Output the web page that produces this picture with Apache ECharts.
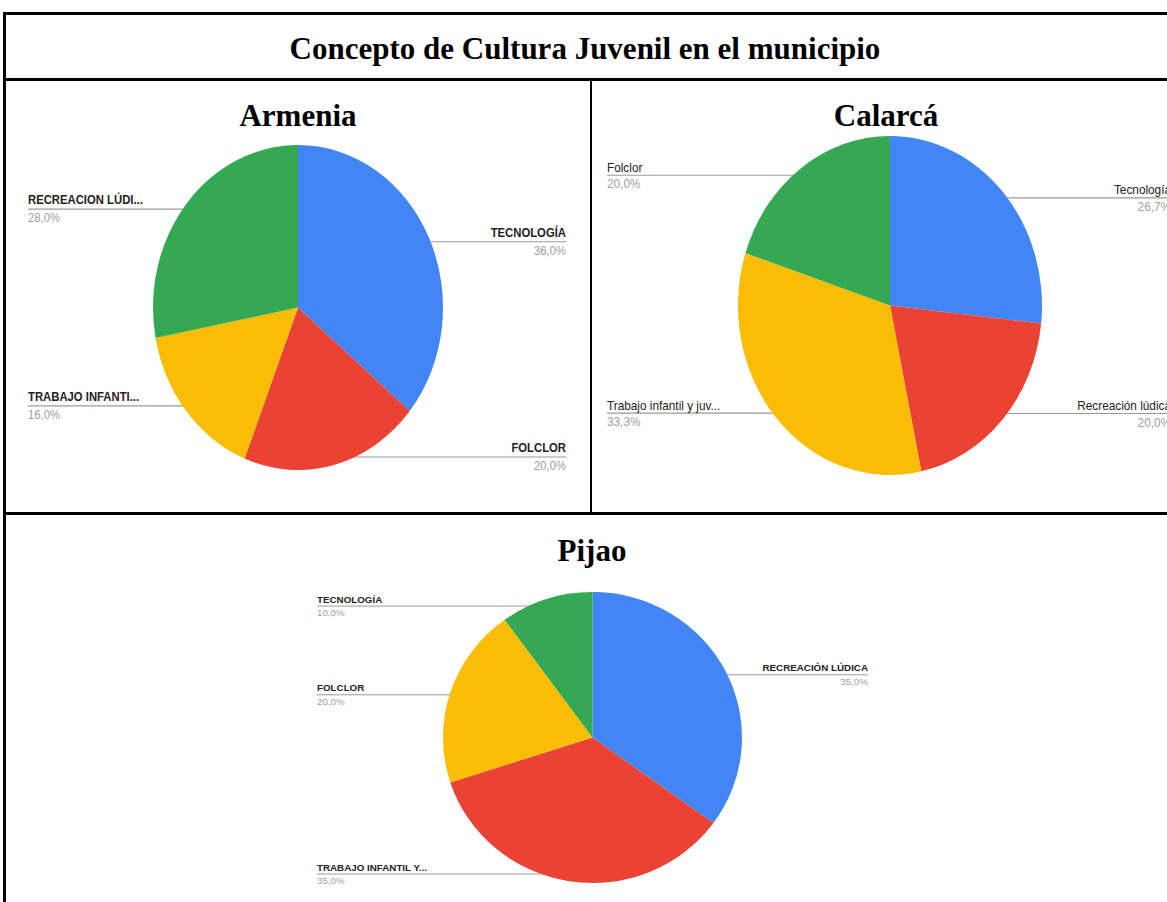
<!DOCTYPE html>
<html>
<head>
<meta charset="utf-8">
<script src="https://cdn.jsdelivr.net/npm/echarts@6/dist/echarts.min.js"></script>
<style>
  html, body { margin:0; padding:0; }
  body { width:1167px; height:902px; overflow:hidden; background:#fff; position:relative; }
  .b { position:absolute; background:#000; }
  .h { position:absolute; font-family:"Liberation Serif","Times New Roman",serif; font-weight:bold; font-size:31px; line-height:31px; text-align:center; color:#000; white-space:nowrap; }
  .c { position:absolute; }
</style>
</head>
<body>
<!-- table borders -->
<div class="b" style="left:3px;top:12px;width:1200px;height:3px"></div>
<div class="b" style="left:3px;top:12px;width:3px;height:900px"></div>
<div class="b" style="left:3px;top:78px;width:1200px;height:3px"></div>
<div class="b" style="left:590px;top:78px;width:2px;height:436px"></div>
<div class="b" style="left:3px;top:512px;width:1200px;height:3px"></div>

<div class="h" style="left:285px;top:33px;width:600px">Concepto de Cultura Juvenil en el municipio</div>
<div class="h" style="left:198px;top:100px;width:200px">Armenia</div>
<div class="h" style="left:786px;top:100px;width:200px">Calarcá</div>
<div class="h" style="left:492px;top:535px;width:200px">Pijao</div>

<div id="armenia" class="c" style="left:6px;top:81px;width:584px;height:431px;transform:scaleY(1.1207);transform-origin:292px 226.5px"></div>
<div id="calarca" class="c" style="left:592px;top:81px;width:596px;height:431px;transform:scaleY(1.1151);transform-origin:298px 224.5px"></div>
<div id="pijao" class="c" style="left:6px;top:515px;width:1173px;height:387px;transform:scaleY(0.973);transform-origin:586.5px 222.5px"></div>

<script>
const COLORS = ['#4285F4', '#EA4335', '#FBBC04', '#34A853'];

const armeniaNames  = ['TECNOLOGÍA', 'FOLCLOR', 'TRABAJO INFANTI...', 'RECREACION LÚDI...'];
const armeniaValues = [36, 20, 16, 28];

const calarcaNames  = ['Tecnología', 'Recreación lúdica', 'Trabajo infantil y juv...', 'Folclor'];
const calarcaValues = [26.7, 20, 33.3, 20];

const pijaoNames  = ['RECREACIÓN LÚDICA', 'TRABAJO INFANTIL Y...', 'FOLCLOR', 'TECNOLOGÍA'];
const pijaoValues = [35, 35, 20, 10];

const FONT = '"Liberation Sans", Arial, sans-serif';

function pct(v) { return v.toFixed(1).replace('.', ',') + '%'; }

function build(id, names, values, cfg) {
  const chart = echarts.init(document.getElementById(id), null, { renderer: 'svg' });
  const total = values.reduce((a, b) => a + b, 0);
  const mids = [];
  let acc = 0;
  values.forEach(v => { mids.push((acc + v / 2) / total * 2 * Math.PI); acc += v; });
  chart.setOption({
    animation: false,
    series: [{
      type: 'pie',
      silent: true,
      startAngle: 90,
      clockwise: true,
      center: [cfg.cx, cfg.cy],
      radius: [0, cfg.r],
      avoidLabelOverlap: false,
      data: names.map((n, i) => ({ name: n, value: values[i], itemStyle: { color: COLORS[i] } })),
      label: {
        show: true,
        position: 'outer',
        formatter: p => '{n|' + p.name + '}\n{v|' + pct(p.value) + '}',
        rich: {
          n: { fontFamily: FONT, fontSize: cfg.fs, fontWeight: cfg.bold ? 'bold' : 'normal', color: '#222', lineHeight: cfg.lh },
          v: { fontFamily: FONT, fontSize: cfg.fs, color: '#9e9e9e', lineHeight: cfg.lh }
        }
      },
      labelLine: { show: true, length: 5, length2: 5, lineStyle: { color: '#9a9a9a', width: 1 } },
      labelLayout: function (params) {
        const a = mids[params.dataIndex];
        const dx = cfg.cx + cfg.dot * cfg.r * Math.sin(a);
        const dy = cfg.cy - cfg.dot * cfg.r * Math.cos(a);
        const left = Math.sin(a) < 0;
        const ex = left ? cfg.left : cfg.right;
        return {
          x: ex, y: dy + cfg.yoff,
          align: left ? 'left' : 'right',
          verticalAlign: 'middle',
          labelLinePoints: [[dx, dy], [dx, dy], [ex, dy]]
        };
      }
    }]
  });
}

build('armenia', armeniaNames, armeniaValues,
  { cx: 292, cy: 226.5, r: 145, dot: 0.95, left: 22, right: 560, fs: 11.3, bold: true, lh: 16, yoff: 0 });
build('calarca', calarcaNames, calarcaValues,
  { cx: 298, cy: 224.5, r: 152, dot: 0.95, left: 15, right: 579, fs: 11.8, bold: false, lh: 15, yoff: 0.5 });
build('pijao', pijaoNames, pijaoValues,
  { cx: 586.5, cy: 222.5, r: 149.5, dot: 0.95, left: 311, right: 862, fs: 9.8, bold: true, lh: 14, yoff: 0 });
</script>
</body>
</html>
